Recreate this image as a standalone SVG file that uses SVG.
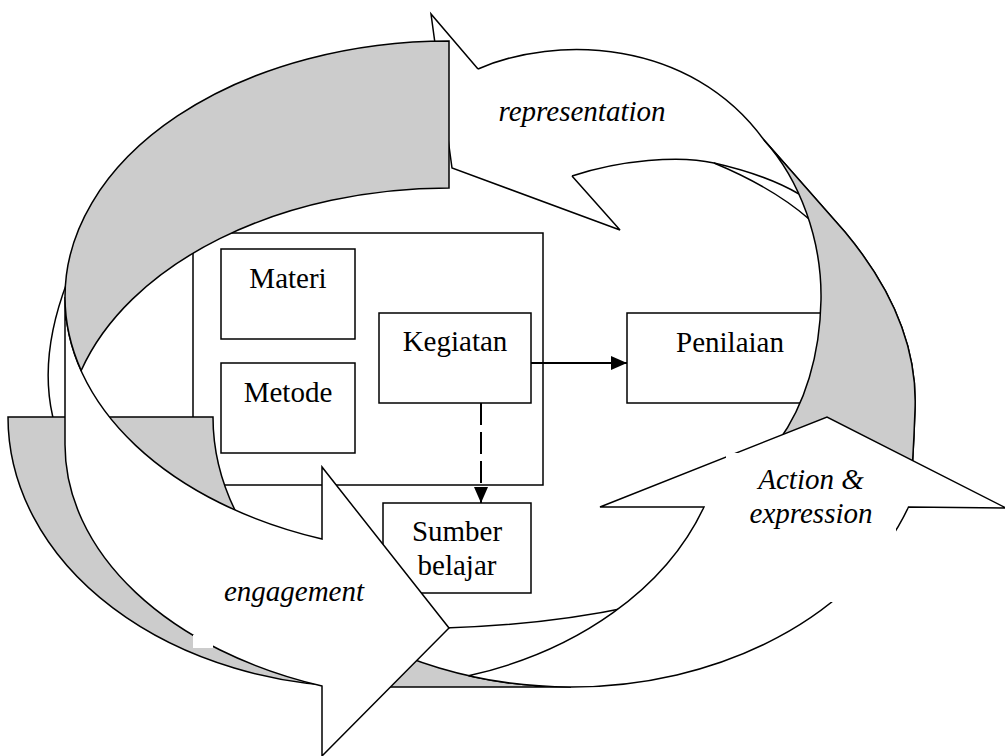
<svg xmlns="http://www.w3.org/2000/svg" width="1005" height="756" viewBox="0 0 1005 756">
<defs>
<style>
.box{fill:#fff;stroke:#000;stroke-width:1.5}
.lbl{font-family:"Liberation Serif","Times New Roman",serif;font-size:29px;fill:#000;text-anchor:middle}
.it{font-style:italic}
.face{fill:#fff;stroke:#000;stroke-width:1.5;stroke-linejoin:miter}
.back{fill:#ccc;stroke:#000;stroke-width:1.5}
.edge{fill:none;stroke:#000;stroke-width:1.5}
.conn{fill:none;stroke:#000;stroke-width:2}
</style>
<marker id="ah" viewBox="0 0 16 14" refX="16" refY="7" markerWidth="16" markerHeight="14" markerUnits="userSpaceOnUse" orient="auto"><path d="M0,0 L16,7 L0,14 Z" fill="#000"/></marker>
</defs>
<rect width="1005" height="756" fill="#fff"/>
<g id="container"><rect class="box" x="193" y="233" width="350" height="252"/></g>
<g id="materi"><rect class="box" x="221" y="249" width="134" height="90"/><text class="lbl" x="288" y="288">Materi</text></g>
<g id="metode"><rect class="box" x="221" y="363" width="134" height="90"/><text class="lbl" x="288" y="402">Metode</text></g>
<g id="kegiatan"><rect class="box" x="379" y="313" width="152" height="90"/><text class="lbl" x="455" y="351">Kegiatan</text></g>
<g id="penilaian"><rect class="box" x="627" y="313" width="206" height="90"/><text class="lbl" x="730" y="352">Penilaian</text></g>
<g id="sumber"><rect class="box" x="383" y="503" width="148" height="90"/><text class="lbl" x="457" y="541">Sumber</text><text class="lbl" x="457" y="575">belajar</text></g>
<g id="connectors">
<line class="conn" x1="531" y1="363" x2="627" y2="363" marker-end="url(#ah)"/>
<line class="conn" x1="481" y1="403" x2="481" y2="503" stroke-dasharray="22 7" marker-end="url(#ah)"/>
</g>
<g id="arrow-representation">
<path fill="#fff" d="M478,69 C555,35 690,38 764,140 L809,219 C785,198 750,178 714,163 C680,155 620,160 572,176 L620,230 L452,168 L431,14 Z"/>
<path class="edge" d="M478,69 L431,14 L452,168 L620,230 L572,176"/>
<path class="edge" d="M478,69 C555,35 690,38 764,140 L845,232 C885,280 918,340 915,410 C914,440 913,455 912,472"/>
<path class="edge" d="M572,176 C620,160 680,155 714,163 C750,178 785,198 809,219"/>
<path class="edge" d="M714,163 C745,170 775,180 799,194"/>
<path class="back" d="M764,140 L845,232 C885,280 918,340 915,410 C914,440 913,455 912,472 L778,472 L778,442 C805,405 820,355 821,300 C822,240 800,180 764,140 Z"/>
<path class="edge" d="M72,270 Q30,370 62,445"/>
<path class="edge" d="M445,628 Q545,625 630,607"/>
</g>
<g id="arrow-action">
<path class="back" d="M8,417 A358,270 0 0 0 366,687 L571,687 A358,270 0 0 1 213,417 Z"/>
<path class="face" d="M704,507 L600,507 L827,417 L1006,508 L908.5,507 A358,270 0 0 1 571,687 A358,270 0 0 1 468.5,675.8 A358,270 0 0 0 704,507 Z"/>
</g>
<g id="arrow-engagement">
<path class="face" d="M65,297 A384,256 0 0 0 322,539 L322,467 L449,628 L322,756 L322,686 A384,256 0 0 1 65,444 Z"/>
<path class="back" d="M449,41 A384,256 0 0 0 65,297 A384,256 0 0 0 81.2,370.5 A384,256 0 0 1 449,188 Z"/>
</g>
<rect x="193" y="635" width="20" height="13" fill="#fff"/>
<g id="label-representation"><text class="lbl it" x="582" y="121">representation</text></g>
<g id="label-action"><rect x="726" y="453" width="170" height="149" fill="#fff"/><text class="lbl it" x="811" y="489">Action &amp;</text><text class="lbl it" x="811" y="523">expression</text></g>
<g id="label-engagement"><text class="lbl it" x="294" y="601">engagement</text></g>
</svg>
